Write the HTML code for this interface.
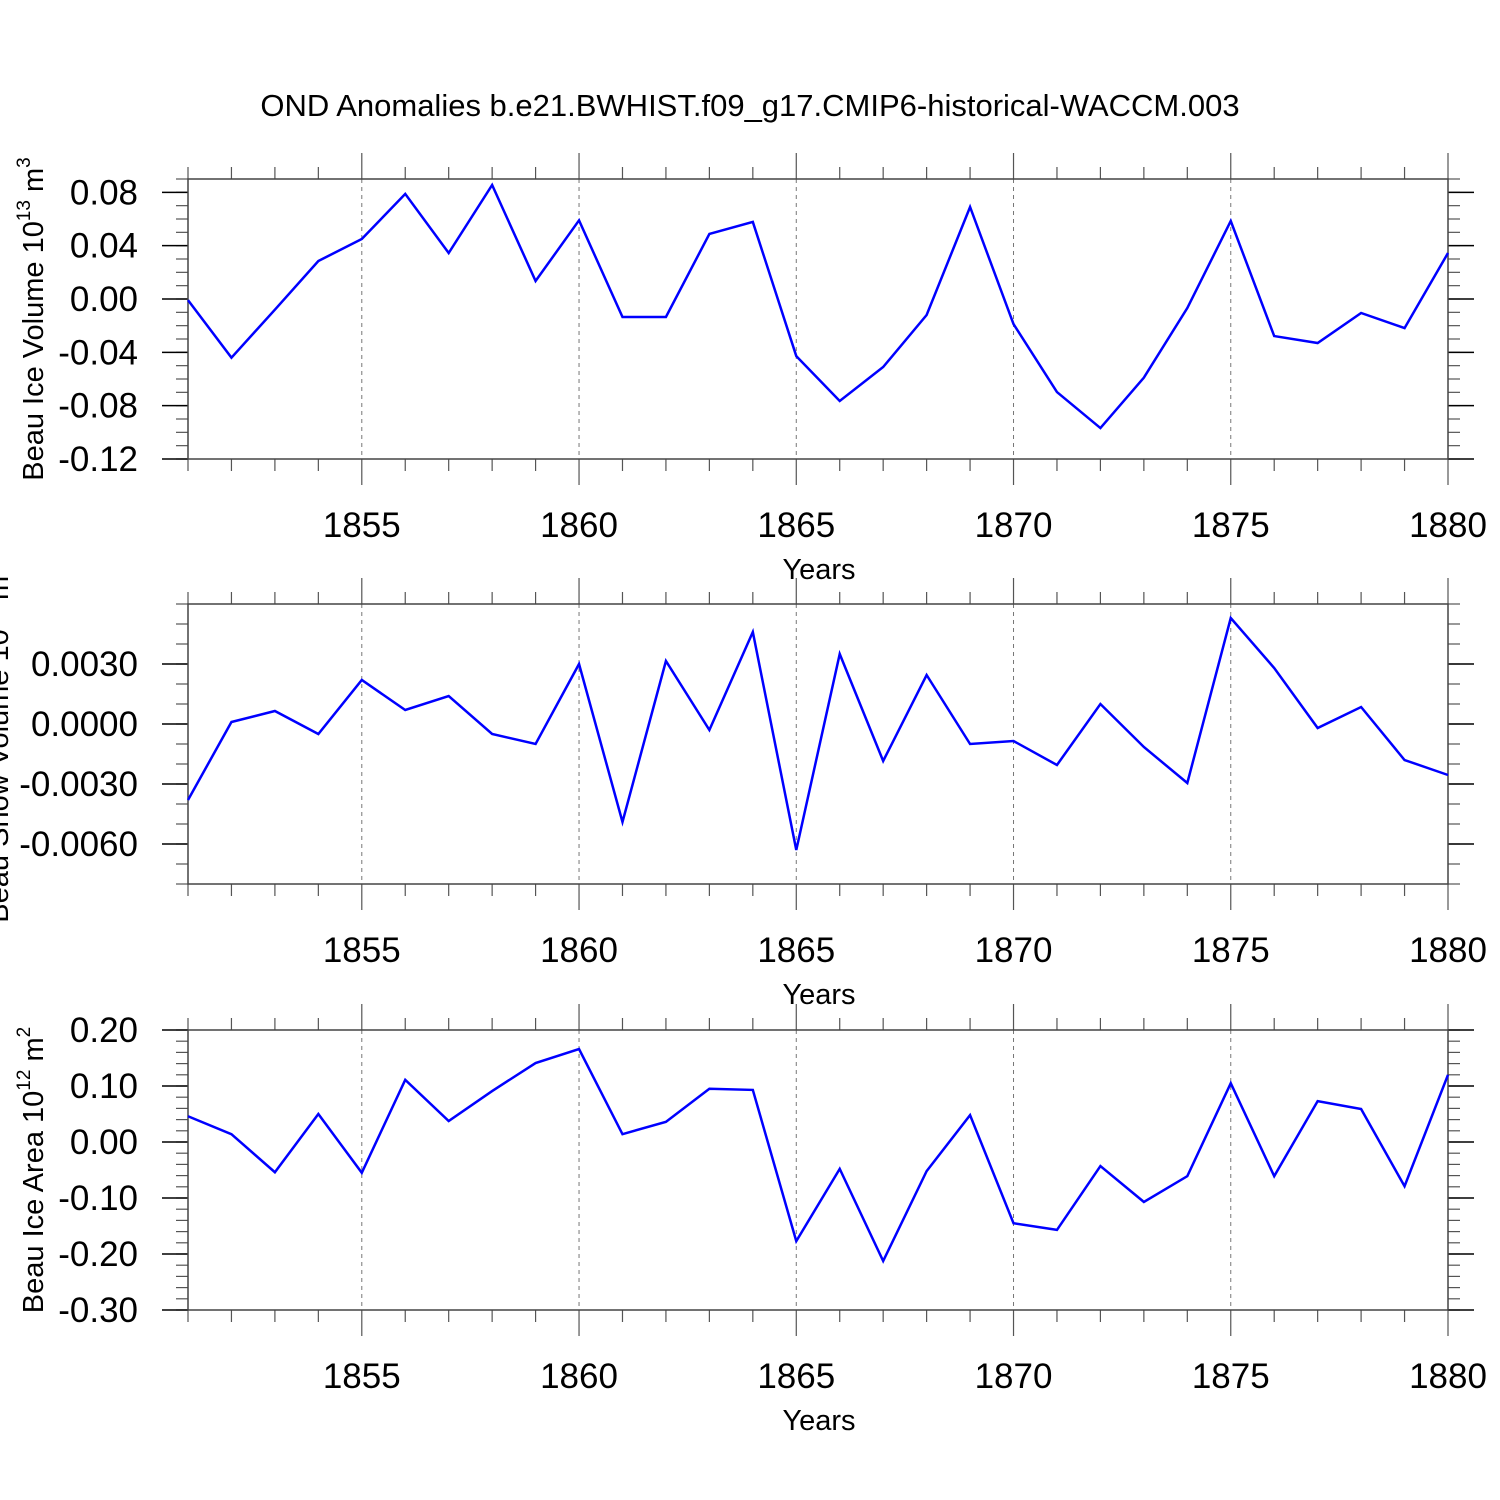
<!DOCTYPE html>
<html><head><meta charset="utf-8"><style>
body{margin:0;background:#fff}
svg{display:block;font-family:"Liberation Sans",sans-serif}
</style></head><body>
<svg id="chart" width="1500" height="1500" viewBox="0 0 1500 1500">
<text x="750" y="116" text-anchor="middle" font-size="31">OND Anomalies b.e21.BWHIST.f09_g17.CMIP6-historical-WACCM.003</text>
</svg>
<script>
const years = [1851,1852,1853,1854,1855,1856,1857,1858,1859,1860,1861,1862,1863,1864,1865,1866,1867,1868,1869,1870,1871,1872,1873,1874,1875,1876,1877,1878,1879,1880];
const iceVolume = [-0.0008,-0.044,-0.008,0.0285,0.045,0.0788,0.0345,0.0855,0.0135,0.059,-0.0135,-0.0135,0.0488,0.0578,-0.0428,-0.0765,-0.051,-0.012,0.069,-0.0188,-0.0698,-0.0968,-0.059,-0.0068,0.0585,-0.0278,-0.033,-0.0105,-0.0218,0.0345];
const snowVolume = [-0.0038,0.0001,0.00065,-0.0005,0.0022,0.0007,0.0014,-0.0005,-0.001,0.003,-0.0049,0.00315,-0.0003,0.0046,-0.0063,0.0035,-0.00185,0.00245,-0.001,-0.00085,-0.00205,0.001,-0.00115,-0.00295,0.0053,0.0028,-0.0002,0.00085,-0.0018,-0.00255];
const iceArea = [0.046,0.014,-0.054,0.05,-0.055,0.111,0.0375,0.091,0.141,0.166,0.014,0.036,0.095,0.093,-0.177,-0.048,-0.2125,-0.052,0.048,-0.145,-0.157,-0.043,-0.107,-0.061,0.105,-0.061,0.073,0.059,-0.079,0.12];
const xTickLabels = [1855,1860,1865,1870,1875,1880];
const volTicks = [0.08,0.04,0.00,-0.04,-0.08,-0.12];
const snowTicks = [0.003,0,-0.003,-0.006];
const areaTicks = [0.2,0.1,0,-0.1,-0.2,-0.3];

const svg = document.getElementById('chart');
const NS = 'http://www.w3.org/2000/svg';
function mk(tag, attrs, parent){const e=document.createElementNS(NS,tag);for(const k in attrs)e.setAttribute(k,attrs[k]);(parent||svg).appendChild(e);return e;}
const X0=188,X1=1448;
function xs(y){return X0+(y-1851)/(1880-1851)*(X1-X0);}

function panel(key, top, ymin, ymax, ticks, minorStep, decimals, vals, labelMain, labelSup, labelX){
  const bot=top+280;
  const ys=v=>bot-(v-ymin)/(ymax-ymin)*280;
  const g=mk('g',{});
  
  
  for(const yr of xTickLabels){ if(yr===1880) continue;
    const l=mk('line',{x1:xs(yr),x2:xs(yr),y1:top,y2:bot,stroke:'#777','stroke-width':1,'stroke-dasharray':'4,4'},g);
    
    
  }
  for(let yr=1851;yr<=1880;yr++){
    const maj=yr%5===0, len=maj?26:12;
    mk('line',{x1:xs(yr),x2:xs(yr),y1:top-len,y2:top,stroke:'#555','stroke-width':1.2},g);
    mk('line',{x1:xs(yr),x2:xs(yr),y1:bot,y2:bot+len,stroke:'#555','stroke-width':1.2},g);
  }
  for(const yr of xTickLabels){
    const t=mk('text',{x:xs(yr),y:bot+78,'text-anchor':'middle','font-size':35},g);
    t.textContent=yr;
    
    
  }
  const xt=mk('text',{x:819,y:bot+120,'text-anchor':'middle','font-size':29},g);
  xt.textContent='Years';
  
  
  const n=Math.round((ymax-ymin)/minorStep);
  for(let i=0;i<=n;i++){const y=ys(ymin+i*minorStep);
    mk('line',{x1:X0-12,x2:X0,y1:y,y2:y,stroke:'#555','stroke-width':1.2},g);
    mk('line',{x1:X1,x2:X1+12,y1:y,y2:y,stroke:'#555','stroke-width':1.2},g);
  }
  for(const v of ticks){const y=ys(v);
    mk('line',{x1:X0-26,x2:X0,y1:y,y2:y,stroke:'#000','stroke-width':1.5},g);
    mk('line',{x1:X1,x2:X1+26,y1:y,y2:y,stroke:'#000','stroke-width':1.5},g);
    const t=mk('text',{x:X0-50,y:y+12,'text-anchor':'end','font-size':35},g);
    t.textContent=v.toFixed(decimals);
    
    
  }
  const fr=mk('rect',{x:X0,y:top,width:X1-X0,height:280,fill:'none',stroke:'#444','stroke-width':1.5},g);
  
  
  const pts=vals.map((v,i)=>xs(years[i])+','+ys(v)).join(' ');
  const pl=mk('polyline',{points:pts,fill:'none',stroke:'#0000ff','stroke-width':2.5,'stroke-linejoin':'miter'},g);
  
  
  const cy=top+140;
  const yt=mk('text',{x:labelX,y:cy,'text-anchor':'middle','font-size':29,transform:`rotate(-90 ${labelX} ${cy})`},g);
  
  
  yt.appendChild(document.createTextNode(labelMain));
  const s1=mk('tspan',{'font-size':19,dy:-13},yt); s1.textContent=labelSup;
  const s2=mk('tspan',{dy:13},yt); s2.textContent=' m';
  const s3=mk('tspan',{'font-size':19,dy:-13},yt); s3.textContent=key==='area'?'2':'3';
}
panel('volume',179,-0.12,0.09,volTicks,0.01,2,iceVolume,'Beau Ice Volume 10','13',43);
panel('snow',604,-0.008,0.006,snowTicks,0.001,4,snowVolume,'Beau Snow Volume 10','13',8);
panel('area',1030,-0.3,0.2,areaTicks,0.02,2,iceArea,'Beau Ice Area 10','12',43);
</script>
</body></html>
